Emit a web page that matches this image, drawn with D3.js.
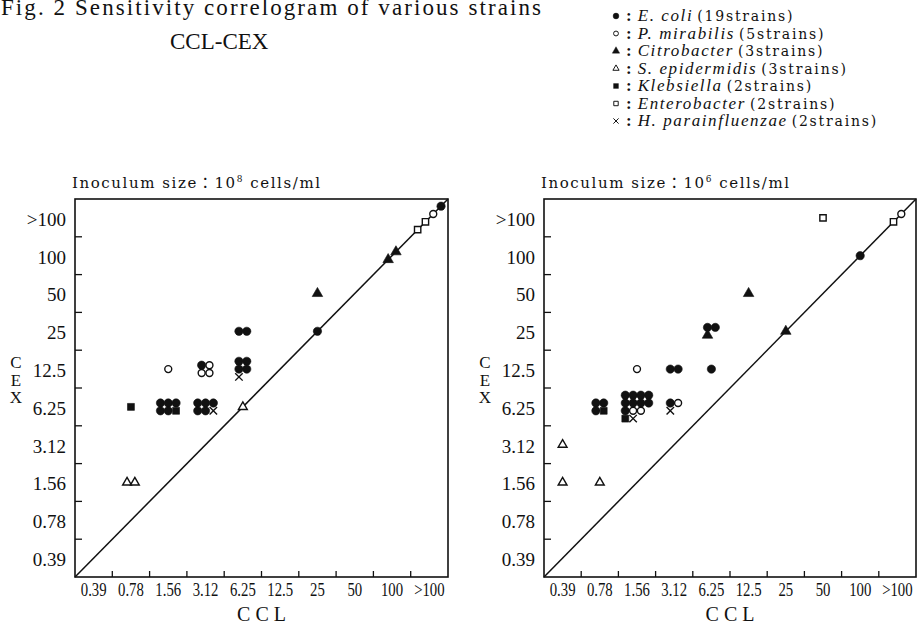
<!DOCTYPE html>
<html>
<head>
<meta charset="utf-8">
<title>Sensitivity correlogram CCL-CEX</title>
<script src="https://cdn.jsdelivr.net/npm/d3@7"></script>
<style>
  body { margin: 0; background: #fff; }
  svg { display: block; }
  text { fill: #111; }
  .serif { font-family: "Liberation Serif", "Times New Roman", serif; }
  .wide { font-family: "DejaVu Serif", serif; }
  .vert { writing-mode: vertical-rl; text-orientation: upright; }
</style>
</head>
<body>
<script>

// MIC categories (ug/ml), same on both axes
var cats = ["0.39", "0.78", "1.56", "3.12", "6.25", "12.5", "25", "50", "100", ">100"];

var speciesNames = ["E. coli", "P. mirabilis", "Citrobacter", "S. epidermidis", "Klebsiella", "Enterobacter", "H. parainfluenzae"];
var speciesCodes = ["e", "p", "c", "s", "k", "n", "h"];
var strainCounts = [19, 5, 3, 3, 2, 2, 2];

// [CCL, CEX, strains in that cell, rows split by "/"]
var cells108 = [
    ["0.78", "1.56", "ss"],
    ["0.78", "6.25", "k"],
    ["1.56", "12.5", "p"],
    ["1.56", "6.25", "eee/eek"],
    ["3.12", "12.5", "ep/pp"],
    ["3.12", "6.25", "eee/eeh"],
    ["6.25", "25", "ee"],
    ["6.25", "12.5", "ee/ee/h"],
    ["6.25", "6.25", "s"],
    ["25", "50", "c"],
    ["25", "25", "e"],
    ["100", "100", "cc"],
    [">100", ">100", "nnpe"]
];

var cells106 = [
    ["0.39", "3.12", "s"],
    ["0.39", "1.56", "s"],
    ["0.78", "1.56", "s"],
    ["0.78", "6.25", "ee/ek"],
    ["1.56", "12.5", "p"],
    ["1.56", "6.25", "eeee/eeee/epp/kh"],
    ["3.12", "12.5", "ee"],
    ["3.12", "6.25", "ep/h"],
    ["6.25", "12.5", "e"],
    ["6.25", "25", "ee/c"],
    ["12.5", "50", "c"],
    ["25", "25", "c"],
    ["50", ">100", "n"],
    ["100", "100", "e"],
    [">100", ">100", "np"]
];

var width = 918, height = 630;
var gap = 7.8;

var svg = d3.select("body").append("svg")
    .attr("width", width)
    .attr("height", height);

// marker look per species code
var markerType = { e: d3.symbolCircle, p: d3.symbolCircle, c: d3.symbolTriangle, s: d3.symbolTriangle,
                   k: d3.symbolSquare, n: d3.symbolSquare, h: d3.symbolTimes };
var markerSize = { e: 54, p: 38, c: 48, s: 34, k: 48, n: 40, h: 38 };
var filled = { e: true, c: true, k: true };

function drawMarker(sel) {
    sel.attr("d", function (d) { return d3.symbol().type(markerType[d.code]).size(markerSize[d.code])(); })
        .attr("fill", function (d) { return filled[d.code] ? "#111" : "#fff"; })
        .attr("stroke", "#111")
        .attr("stroke-width", function (d) { return filled[d.code] ? 0.6 : 1.4; });
}

// place the strains of each cell in a small left-aligned grid,
// cells on the x = y line are spread along the diagonal
function layout(cells, x, y) {
    var pts = [];
    cells.forEach(function (c) {
        var rows = c[2].split("/");
        var cx = x(c[0]) + x.bandwidth() / 2,
            cy = y(c[1]) + y.bandwidth() / 2;
        if (c[0] === c[1] && rows.length === 1) {
            var n = rows[0].length;
            rows[0].split("").forEach(function (s, i) {
                var k = i - (n - 1) / 2;
                pts.push({ code: s, x: cx + k * gap, y: cy - k * gap });
            });
        } else {
            var ncol = d3.max(rows, function (r) { return r.length; });
            rows.forEach(function (r, j) {
                r.split("").forEach(function (s, i) {
                    pts.push({ code: s,
                               x: cx + (i - (ncol - 1) / 2) * gap,
                               y: cy + (j - (rows.length - 1) / 2) * gap });
                });
            });
        }
    });
    return pts;
}

function panel(cells, left, right, sup) {
    var top = 199, bottom = 577;

    var x = d3.scaleBand().domain(cats).range([left, right]);
    var y = d3.scaleBand().domain(cats).range([bottom, top]);

    var g = svg.append("g");

    // Inoculum size heading
    var head = g.append("text")
        .attr("class", "wide")
        .attr("x", left - 3)
        .attr("y", 188)
        .attr("font-size", 15)
        .attr("textLength", 248)
        .attr("lengthAdjust", "spacing");
    head.append("tspan").text("Inoculum size");
    head.append("tspan").attr("font-family", "Noto Sans CJK JP").text("：");
    head.append("tspan").text("10");
    head.append("tspan").attr("font-size", 9).attr("dy", -6).text(sup);
    head.append("tspan").attr("dy", 6).text(" cells/ml");

    // frame
    g.append("rect")
        .attr("x", left).attr("y", top)
        .attr("width", right - left).attr("height", bottom - top)
        .attr("fill", "none")
        .attr("stroke", "#111")
        .attr("stroke-width", 1.6);

    // ticks on category boundaries, pointing inward
    g.selectAll(".xtick")
        .data(cats.slice(1)).enter()
        .append("line")
        .attr("x1", function (d) { return x(d); })
        .attr("x2", function (d) { return x(d); })
        .attr("y1", bottom).attr("y2", bottom - 6)
        .attr("stroke", "#111").attr("stroke-width", 1.3);

    g.selectAll(".ytick")
        .data(cats.slice(0, -1)).enter()
        .append("line")
        .attr("x1", left).attr("x2", left + 7)
        .attr("y1", function (d) { return y(d); })
        .attr("y2", function (d) { return y(d); })
        .attr("stroke", "#111").attr("stroke-width", 1.3);

    // tick labels centred in the bands
    var xa = g.append("g")
        .attr("transform", "translate(0," + bottom + ")")
        .call(d3.axisBottom(x).tickSize(0).tickPadding(6));
    xa.select(".domain").remove();
    xa.selectAll("text")
        .attr("font-family", "Liberation Serif")
        .attr("font-size", 18)
        .attr("fill", "#111")
        .attr("transform", "scale(0.82,1)");

    var ya = g.append("g")
        .attr("transform", "translate(" + left + ",0)")
        .call(d3.axisLeft(y).tickSize(0).tickPadding(9));
    ya.select(".domain").remove();
    ya.selectAll("text")
        .attr("font-family", "Liberation Serif")
        .attr("font-size", 19)
        .attr("fill", "#111")
        .attr("dy", "0.42em");

    // axis titles
    g.append("text")
        .attr("class", "serif")
        .attr("x", (left + right) / 2)
        .attr("y", 621)
        .attr("text-anchor", "middle")
        .attr("font-size", 20)
        .text("C C L");

    // CEX set upright, one letter under the other
    g.append("text")
        .attr("class", "serif vert")
        .attr("x", left - 59)
        .attr("y", 353)
        .attr("font-size", 17)
        .attr("letter-spacing", -1.5)
        .text("CEX");

    // x = y line
    g.append("line")
        .attr("x1", x.range()[0]).attr("y1", y.range()[0])
        .attr("x2", x.range()[1]).attr("y2", y.range()[1])
        .attr("stroke", "#111")
        .attr("stroke-width", 1.5);

    g.selectAll(".pt")
        .data(layout(cells, x, y)).enter()
        .append("path")
        .attr("transform", function (d) { return "translate(" + d.x + "," + d.y + ")"; })
        .call(drawMarker);
}

panel(cells108, 75, 448, "8");
panel(cells106, 544, 916, "6");

// title
svg.append("text")
    .attr("class", "serif")
    .attr("x", 1).attr("y", 15)
    .attr("font-size", 23)
    .attr("textLength", 540)
    .attr("lengthAdjust", "spacing")
    .text("Fig. 2  Sensitivity correlogram of various strains");

svg.append("text")
    .attr("class", "serif")
    .attr("x", 170).attr("y", 49)
    .attr("font-size", 23)
    .text("CCL-CEX");

// legend
var legend = svg.append("g");
var rows = legend.selectAll("g")
    .data(speciesNames).enter()
    .append("g")
    .attr("transform", function (d, i) { return "translate(0," + (21 + i * 17.5) + ")"; });

rows.append("path")
    .datum(function (d, i) { return { code: speciesCodes[i] }; })
    .attr("transform", "translate(616,-5) scale(0.7)")
    .call(drawMarker);

var lt = rows.append("text")
    .attr("x", 626);
lt.append("tspan")
    .attr("class", "serif")
    .attr("font-size", 17)
    .attr("font-weight", "bold")
    .text(":");
lt.append("tspan")
    .attr("class", "serif")
    .attr("font-style", "italic")
    .attr("font-size", 17)
    .attr("letter-spacing", 1.6)
    .attr("dx", 6)
    .text(function (d) { return d; });
lt.append("tspan")
    .attr("class", "wide")
    .attr("font-size", 14)
    .attr("letter-spacing", 1.8)
    .attr("dx", 4)
    .text(function (d, i) { return "(" + strainCounts[i] + "strains)"; });

</script>
</body>
</html>
